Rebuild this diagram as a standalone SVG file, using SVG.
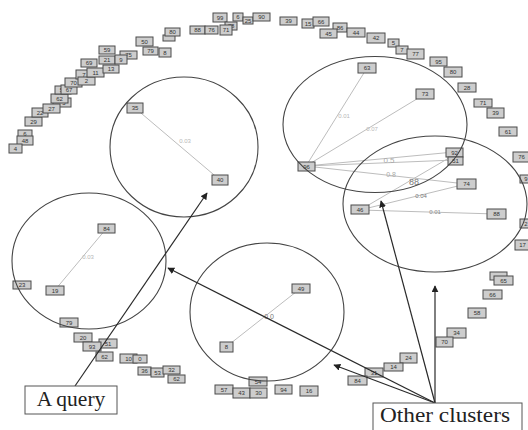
<svg xmlns="http://www.w3.org/2000/svg" width="528" height="430" viewBox="0 0 528 430">
<defs>
<marker id="ah" viewBox="0 0 10 10" refX="9" refY="5" markerWidth="7" markerHeight="7" markerUnits="userSpaceOnUse" orient="auto"><path d="M0,0 L10,5 L0,10 z" fill="#222"/></marker>
</defs>
<style>
.b rect{fill:#cdcdcd;stroke:#4a4a4a;stroke-width:1}
.b text{font-family:"Liberation Sans",Arial,sans-serif;font-size:6px;fill:#333;text-anchor:middle}
.e{stroke:#bdbdbd;stroke-width:1;fill:none}
.w{font-family:"Liberation Sans",Arial,sans-serif;font-size:6px;fill:#b8b8b8;text-anchor:middle}
.c{fill:none;stroke:#444;stroke-width:1.1}
.a{stroke:#2a2a2a;stroke-width:1.2;fill:none;marker-end:url(#ah)}
.lab rect{fill:#fff;stroke:#555;stroke-width:1}
.lab text{font-family:"Liberation Serif","Times New Roman",serif;fill:#222;text-anchor:middle}
</style>
<rect width="528" height="430" fill="#fff"/>
<g id="edges">
<line class="e" x1="135" y1="108" x2="220" y2="180"/>
<line class="e" x1="106" y1="229" x2="55" y2="290"/>
<line class="e" x1="226" y1="347" x2="301" y2="288"/>
<line class="e" x1="306" y1="166" x2="367" y2="68"/>
<line class="e" x1="306" y1="166" x2="425" y2="94"/>
<line class="e" x1="306" y1="166" x2="454" y2="152"/>
<line class="e" x1="306" y1="166" x2="455" y2="160"/>
<line class="e" x1="306" y1="166" x2="466" y2="184"/>
<line class="e" x1="360" y1="210" x2="454" y2="155"/>
<line class="e" x1="360" y1="210" x2="466" y2="184"/>
<line class="e" x1="360" y1="210" x2="496" y2="214"/>
<text class="w" x="185" y="143">0.03</text>
<text class="w" x="88" y="259">0.03</text>
<text class="w" x="269" y="319" style="fill:#777;font-size:7px">0.0</text>
<text class="w" x="344" y="118">0.01</text>
<text class="w" x="372" y="131">0.07</text>
<text class="w" x="389" y="163" style="font-size:8px;fill:#aaa">0.5</text>
<text class="w" x="391" y="177" style="font-size:7px;fill:#aaa">0.8</text>
<text class="w" x="414" y="185" style="font-size:9px;fill:#777">88</text>
<text class="w" x="421" y="198" style="fill:#777">0.04</text>
<text class="w" x="435" y="214" style="fill:#888">0.01</text>
</g>
<g id="nodes">
<g id="n6a" class="b"><rect x="18" y="130" width="14" height="8"/><text x="25" y="136">6</text></g>
<g id="n48" class="b"><rect x="17" y="136" width="16" height="9"/><text x="25" y="142.5">48</text></g>
<g id="n4" class="b"><rect x="9" y="144" width="13" height="9"/><text x="15.5" y="150.5">4</text></g>
<g id="n29" class="b"><rect x="25" y="117" width="17" height="9"/><text x="33.5" y="123.5">29</text></g>
<g id="n22" class="b"><rect x="32" y="108" width="16" height="9"/><text x="40" y="114.5">22</text></g>
<g id="n5b" class="b"><rect x="53" y="98" width="18" height="9"/><text x="64" y="104.5">5</text></g>
<g id="n27" class="b"><rect x="43" y="104" width="17" height="9"/><text x="51.5" y="110.5">27</text></g>
<g id="n62a" class="b"><rect x="51" y="94" width="17" height="9"/><text x="59.5" y="100.5">62</text></g>
<g id="n52" class="b"><rect x="55" y="86" width="16" height="8"/><text x="63" y="92">52</text></g>
<g id="n67" class="b"><rect x="61" y="85" width="16" height="9"/><text x="69" y="91.5">67</text></g>
<g id="n70a" class="b"><rect x="65" y="78" width="17" height="9"/><text x="73.5" y="84.5">70</text></g>
<g id="n7a" class="b"><rect x="76" y="70" width="16" height="9"/><text x="84" y="76.5">7</text></g>
<g id="n2a" class="b"><rect x="78" y="77" width="17" height="8"/><text x="86.5" y="83">2</text></g>
<g id="n69" class="b"><rect x="81" y="59" width="16" height="8"/><text x="89" y="65">69</text></g>
<g id="n11" class="b"><rect x="87" y="68" width="17" height="9"/><text x="95.5" y="74.5">11</text></g>
<g id="n13" class="b"><rect x="103" y="65" width="16" height="8"/><text x="111" y="71">13</text></g>
<g id="n59" class="b"><rect x="99" y="46" width="16" height="8"/><text x="107" y="52">59</text></g>
<g id="n21" class="b"><rect x="99" y="56" width="16" height="8"/><text x="107" y="62">21</text></g>
<g id="n75a" class="b"><rect x="120" y="51" width="17" height="8"/><text x="128.5" y="57">75</text></g>
<g id="n9a" class="b"><rect x="115" y="55" width="12" height="9"/><text x="121" y="61.5">9</text></g>
<g id="n50" class="b"><rect x="136" y="37" width="17" height="9"/><text x="144.5" y="43.5">50</text></g>
<g id="n79a" class="b"><rect x="143" y="47" width="15" height="8"/><text x="150.5" y="53">79</text></g>
<g id="n8a" class="b"><rect x="159" y="48" width="12" height="9"/><text x="165" y="54.5">8</text></g>
<g id="n3" class="b"><rect x="163" y="35" width="12" height="6"/></g>
<g id="n80a" class="b"><rect x="165" y="28" width="15" height="8"/><text x="172.5" y="34">80</text></g>
<g id="n88a" class="b"><rect x="190" y="26" width="15" height="8"/><text x="197.5" y="32">88</text></g>
<g id="n76a" class="b"><rect x="205" y="26" width="13" height="8"/><text x="211.5" y="32">76</text></g>
<g id="n99" class="b"><rect x="213" y="13" width="14" height="9"/><text x="220" y="19.5">99</text></g>
<g id="n78" class="b"><rect x="225" y="22" width="12" height="8"/><text x="231" y="28">78</text></g>
<g id="n71a" class="b"><rect x="220" y="25" width="12" height="10"/><text x="226" y="32">71</text></g>
<g id="n6b" class="b"><rect x="233" y="13" width="10" height="8"/><text x="238" y="19">6</text></g>
<g id="n25" class="b"><rect x="243" y="17" width="10" height="7"/><text x="248" y="22.5">25</text></g>
<g id="n90" class="b"><rect x="253" y="13" width="17" height="8"/><text x="261.5" y="19">90</text></g>
<g id="n39a" class="b"><rect x="280" y="17" width="17" height="8"/><text x="288.5" y="23">39</text></g>
<g id="n15" class="b"><rect x="302" y="19" width="12" height="9"/><text x="308" y="25.5">15</text></g>
<g id="n66a" class="b"><rect x="313" y="17" width="16" height="9"/><text x="321" y="23.5">66</text></g>
<g id="n86" class="b"><rect x="333" y="23" width="14" height="9"/><text x="340" y="29.5">86</text></g>
<g id="n45" class="b"><rect x="320" y="29" width="17" height="9"/><text x="328.5" y="35.5">45</text></g>
<g id="n44" class="b"><rect x="347" y="28" width="18" height="9"/><text x="356" y="34.5">44</text></g>
<g id="n42" class="b"><rect x="367" y="33" width="18" height="10"/><text x="376" y="40">42</text></g>
<g id="n5a" class="b"><rect x="388" y="39" width="11" height="8"/><text x="393.5" y="45">5</text></g>
<g id="n7b" class="b"><rect x="396" y="46" width="12" height="8"/><text x="402" y="52">7</text></g>
<g id="n77" class="b"><rect x="407" y="49" width="17" height="10"/><text x="415.5" y="56">77</text></g>
<g id="n95" class="b"><rect x="430" y="57" width="17" height="9"/><text x="438.5" y="63.5">95</text></g>
<g id="n80b" class="b"><rect x="444" y="67" width="18" height="10"/><text x="453" y="74">80</text></g>
<g id="n28" class="b"><rect x="458" y="83" width="18" height="9"/><text x="467" y="89.5">28</text></g>
<g id="n71b" class="b"><rect x="474" y="99" width="18" height="8"/><text x="483" y="105">71</text></g>
<g id="n39b" class="b"><rect x="487" y="108" width="17" height="10"/><text x="495.5" y="115">39</text></g>
<g id="n61" class="b"><rect x="499" y="127" width="18" height="9"/><text x="508" y="133.5">61</text></g>
<g id="n63" class="b"><rect x="358" y="63" width="18" height="10"/><text x="367" y="70">63</text></g>
<g id="n73" class="b"><rect x="416" y="89" width="18" height="10"/><text x="425" y="96">73</text></g>
<g id="n92" class="b"><rect x="446" y="148" width="17" height="9"/><text x="454.5" y="154.5">92</text></g>
<g id="n51a" class="b"><rect x="448" y="157" width="15" height="8"/><text x="455.5" y="163">51</text></g>
<g id="n74" class="b"><rect x="457" y="179" width="19" height="10"/><text x="466.5" y="186">74</text></g>
<g id="n46" class="b"><rect x="351" y="205" width="18" height="9"/><text x="360" y="211.5">46</text></g>
<g id="n88b" class="b"><rect x="487" y="209" width="19" height="10"/><text x="496.5" y="216">88</text></g>
<g id="n76b" class="b"><rect x="513" y="152" width="17" height="10"/><text x="521.5" y="159">76</text></g>
<g id="n9b" class="b"><rect x="520" y="175" width="12" height="8"/><text x="526" y="181">9</text></g>
<g id="n2b" class="b"><rect x="520" y="219" width="12" height="9"/><text x="526" y="225.5">2</text></g>
<g id="n17" class="b"><rect x="515" y="240" width="15" height="10"/><text x="522.5" y="247">17</text></g>
<g id="n96" class="b"><rect x="298" y="162" width="17" height="9"/><text x="306.5" y="168.5">96</text></g>
<g id="n65a" class="b"><rect x="490" y="272" width="17" height="8"/></g>
<g id="n65b" class="b"><rect x="494" y="276" width="19" height="9"/><text x="503.5" y="282.5">65</text></g>
<g id="n66b" class="b"><rect x="483" y="290" width="19" height="9"/><text x="492.5" y="296.5">66</text></g>
<g id="n58" class="b"><rect x="468" y="308" width="18" height="10"/><text x="477" y="315">58</text></g>
<g id="n34" class="b"><rect x="447" y="328" width="19" height="10"/><text x="456.5" y="335">34</text></g>
<g id="n70b" class="b"><rect x="436" y="337" width="17" height="10"/><text x="444.5" y="344">70</text></g>
<g id="n24" class="b"><rect x="400" y="353" width="17" height="10"/><text x="408.5" y="360">24</text></g>
<g id="n14" class="b"><rect x="384" y="363" width="19" height="8"/><text x="393.5" y="369">14</text></g>
<g id="n31" class="b"><rect x="365" y="368" width="18" height="9"/><text x="374" y="374.5">31</text></g>
<g id="n84a" class="b"><rect x="348" y="376" width="19" height="9"/><text x="357.5" y="382.5">84</text></g>
<g id="n49" class="b"><rect x="292" y="284" width="18" height="9"/><text x="301" y="290.5">49</text></g>
<g id="n8b" class="b"><rect x="220" y="342" width="13" height="10"/><text x="226.5" y="349">8</text></g>
<g id="n57" class="b"><rect x="215" y="385" width="18" height="9"/><text x="224" y="391.5">57</text></g>
<g id="n43" class="b"><rect x="233" y="388" width="17" height="10"/><text x="241.5" y="395">43</text></g>
<g id="n54" class="b"><rect x="249" y="377" width="18" height="9"/><text x="258" y="383.5">54</text></g>
<g id="n30" class="b"><rect x="250" y="388" width="17" height="10"/><text x="258.5" y="395">30</text></g>
<g id="n94" class="b"><rect x="275" y="385" width="17" height="9"/><text x="283.5" y="391.5">94</text></g>
<g id="n16" class="b"><rect x="300" y="386" width="18" height="10"/><text x="309" y="393">16</text></g>
<g id="n84b" class="b"><rect x="98" y="224" width="17" height="9"/><text x="106.5" y="230.5">84</text></g>
<g id="n19" class="b"><rect x="46" y="286" width="18" height="9"/><text x="55" y="292.5">19</text></g>
<g id="n23" class="b"><rect x="13" y="281" width="18" height="8"/><text x="22" y="287">23</text></g>
<g id="n79b" class="b"><rect x="60" y="318" width="18" height="9"/><text x="69" y="324.5">79</text></g>
<g id="n20" class="b"><rect x="74" y="333" width="18" height="9"/><text x="83" y="339.5">20</text></g>
<g id="n51b" class="b"><rect x="99" y="339" width="18" height="9"/><text x="108" y="345.5">51</text></g>
<g id="n93" class="b"><rect x="83" y="342" width="18" height="9"/><text x="92" y="348.5">93</text></g>
<g id="n62b" class="b"><rect x="96" y="352" width="17" height="9"/><text x="104.5" y="358.5">62</text></g>
<g id="n10" class="b"><rect x="120" y="354" width="17" height="9"/><text x="128.5" y="360.5">10</text></g>
<g id="n0" class="b"><rect x="133" y="355" width="14" height="8"/><text x="140" y="361">0</text></g>
<g id="n36" class="b"><rect x="138" y="367" width="13" height="8"/><text x="144.5" y="373">36</text></g>
<g id="n53" class="b"><rect x="151" y="368" width="13" height="9"/><text x="157.5" y="374.5">53</text></g>
<g id="n32" class="b"><rect x="163" y="366" width="17" height="8"/><text x="171.5" y="372">32</text></g>
<g id="n62c" class="b"><rect x="168" y="375" width="17" height="8"/><text x="176.5" y="381">62</text></g>
<g id="n40" class="b"><rect x="212" y="175" width="16" height="10"/><text x="220" y="182">40</text></g>
<g id="n35" class="b"><rect x="127" y="103" width="16" height="10"/><text x="135" y="110">35</text></g>
</g>
<g id="clusters">
<ellipse class="c" cx="184" cy="147" rx="74" ry="70"/>
<ellipse class="c" cx="375" cy="124.5" rx="92" ry="68"/>
<ellipse class="c" cx="435" cy="204" rx="92" ry="68"/>
<ellipse class="c" cx="89" cy="261" rx="77" ry="68"/>
<ellipse class="c" cx="267" cy="312" rx="77" ry="69"/>
</g>
<g id="connectors">
<line class="a" x1="75" y1="386" x2="207" y2="193"/>
<line class="a" x1="435" y1="403" x2="168" y2="268"/>
<line class="a" x1="435" y1="403" x2="334" y2="365"/>
<line class="a" x1="435" y1="403" x2="381" y2="201"/>
<line class="a" x1="435" y1="403" x2="435" y2="286"/>
</g>
<g id="query" class="lab"><rect x="25" y="386" width="92" height="28"/><text x="71" y="406" font-size="21.5">A query</text></g>
<g id="other" class="lab"><rect x="373" y="403" width="149" height="30"/><text x="445" y="422" font-size="21.5" textLength="130" lengthAdjust="spacingAndGlyphs">Other clusters</text></g>
</svg>
